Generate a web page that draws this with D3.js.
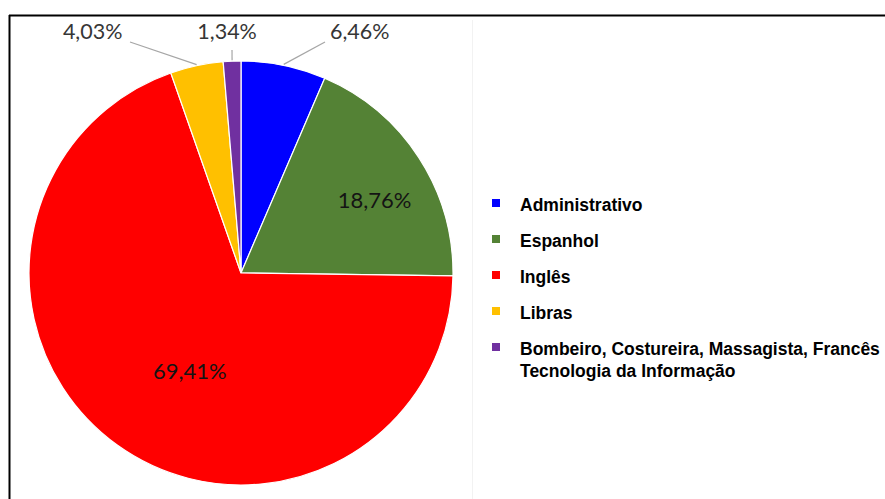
<!DOCTYPE html>
<html>
<head>
<meta charset="utf-8">
<script src="https://cdn.jsdelivr.net/npm/d3@7"></script>
<style>
  body { margin: 0; background: #fff; }
  .pct { font-family: Lato, "Open Sans", sans-serif; }
  .legend text { font-family: "Liberation Sans", Arial, sans-serif; font-weight: bold; font-size: 17.5px; fill: #000; }
</style>
</head>
<body>
<div id="chart"></div>
<script>
// Chart data
const categories = ["Administrativo", "Espanhol", "Inglês", "Libras", "Bombeiro, Costureira, Massagista, Francês|Tecnologia da Informação"];
const values = [6.46, 18.76, 69.41, 4.03, 1.34];
const valueLabels = ["6,46%", "18,76%", "69,41%", "4,03%", "1,34%"];
const colors = ["#0000ff", "#548235", "#ff0000", "#ffc000", "#7030a0"];

const width = 885;
const height = 499;
const cx = 241, cy = 273, radius = 212;

const svg = d3.select("#chart")
  .append("svg")
  .attr("width", width)
  .attr("height", height);

// frame (top and left edges only are visible in the picture)
svg.append("line").attr("x1", 9).attr("x2", width).attr("y1", 15.5).attr("y2", 15.5)
  .attr("stroke", "#000").attr("stroke-width", 2);
svg.append("line").attr("x1", 9.5).attr("x2", 9.5).attr("y1", 15).attr("y2", height)
  .attr("stroke", "#000").attr("stroke-width", 2);
// faint plot area edge
svg.append("line").attr("x1", 472.5).attr("x2", 472.5).attr("y1", 20).attr("y2", height)
  .attr("stroke", "#f2f2f2").attr("stroke-width", 1);

const data = categories.map((c, i) => ({ name: c, value: values[i], label: valueLabels[i], color: colors[i] }));

const pie = d3.pie().sort(null).value(d => d.value);
const arcs = pie(data);

const arc = d3.arc().innerRadius(0).outerRadius(radius);

const g = svg.append("g").attr("transform", `translate(${cx},${cy})`);

g.selectAll("path")
  .data(arcs)
  .enter()
  .append("path")
    .attr("d", arc)
    .attr("fill", d => d.data.color)
    .attr("stroke", "#fff")
    .attr("stroke-width", 1.2);

// label placement: inside labels use a centroid radius, outside ones sit on a row above the pie
const inside = { "Espanhol": { r: 0.72, da: 0.07 }, "Inglês": { r: 0.52, da: -0.14 } };
const outside = { "Administrativo": { dx: 76, lx: 325 }, "Libras": { dx: -104, lx: 130 }, "Bombeiro": { dx: -5, lx: 232 } };
const labelY = 39;

arcs.forEach(d => {
  const key = d.data.name.split(",")[0].split("|")[0];
  const mid = (d.startAngle + d.endAngle) / 2;
  if (inside[key]) {
    const o = inside[key];
    const a = mid + o.da;
    g.append("text")
      .attr("class", "pct")
      .attr("x", Math.sin(a) * radius * o.r)
      .attr("y", -Math.cos(a) * radius * o.r)
      .attr("text-anchor", "middle")
      .attr("dominant-baseline", "central")
      .attr("font-size", 22)
      .attr("fill", "#141414")
      .text(d.data.label);
  } else {
    const o = outside[key];
    const ex = Math.sin(mid) * radius, ey = -Math.cos(mid) * radius;
    const tx = ex + o.dx;
    const ty = labelY - cy;
    // leader line
    const endY = key === "Bombeiro" ? ty + 11 : ty + 3;
    g.append("line")
      .attr("x1", ex).attr("y1", ey - 1)
      .attr("x2", o.lx - cx).attr("y2", endY)
      .attr("stroke", "#a6a6a6").attr("stroke-width", 1.2);
    g.append("text")
      .attr("class", "pct")
      .attr("x", tx)
      .attr("y", ty)
      .attr("text-anchor", "middle")
      .attr("font-size", 21.5)
      .attr("fill", "#363636")
      .text(d.data.label);
  }
});

// Legend
const legend = svg.append("g").attr("class", "legend").attr("transform", "translate(492,205)");
const rowStep = 36;
const rows = legend.selectAll("g")
  .data(data)
  .enter()
  .append("g")
    .attr("transform", (d, i) => `translate(0,${i * rowStep})`);

rows.append("rect")
  .attr("x", 0).attr("y", -6)
  .attr("width", 8).attr("height", 8)
  .attr("fill", d => d.color);

rows.each(function(d) {
  const lines = d.name.split("|");
  const t = d3.select(this).append("text").attr("x", 28).attr("y", 6);
  lines.forEach((ln, j) => {
    t.append("tspan").attr("x", 28).attr("dy", j === 0 ? 0 : 22).text(ln);
  });
});
</script>
</body>
</html>
